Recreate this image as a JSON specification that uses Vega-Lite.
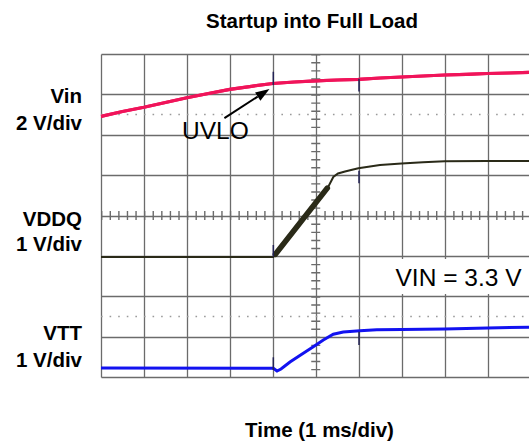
{
  "$schema": "https://vega.github.io/schema/vega-lite/v6.json",
  "width": 428,
  "height": 323,
  "autosize": {"type": "none"},
  "padding": {"left": 101, "top": 54, "right": 0, "bottom": 66},
  "background": "white",
  "config": {
    "view": {"stroke": null},
    "axis": {"grid": true, "gridColor": "#6b6b6b", "gridWidth": 1.3, "gridOpacity": 1, "domain": false, "ticks": false, "labels": false}
  },
  "datasets": {
    "vin": [
      {"t": 0, "v": 6.454}, {"t": 0.5, "v": 6.576}, {"t": 1, "v": 6.68}, {"t": 1.5, "v": 6.799},
      {"t": 2, "v": 6.915}, {"t": 2.5, "v": 7.022}, {"t": 3, "v": 7.123}, {"t": 3.5, "v": 7.2},
      {"t": 4, "v": 7.269}, {"t": 4.5, "v": 7.307}, {"t": 5, "v": 7.336}, {"t": 5.5, "v": 7.356},
      {"t": 6, "v": 7.373}, {"t": 6.5, "v": 7.406}, {"t": 7, "v": 7.43}, {"t": 7.5, "v": 7.455},
      {"t": 8, "v": 7.48}, {"t": 8.5, "v": 7.497}, {"t": 9, "v": 7.517}, {"t": 9.5, "v": 7.529},
      {"t": 9.965, "v": 7.544}
    ],
    "vddq": [
      {"t": 0, "v": 2.972}, {"t": 4.012, "v": 2.972}, {"t": 5.292, "v": 4.713}, {"t": 5.409, "v": 4.954},
      {"t": 5.518, "v": 5.04}, {"t": 5.681, "v": 5.09}, {"t": 5.991, "v": 5.169}, {"t": 6.496, "v": 5.251},
      {"t": 6.997, "v": 5.285}, {"t": 7.497, "v": 5.318}, {"t": 8.002, "v": 5.342}, {"t": 8.999, "v": 5.352},
      {"t": 9.965, "v": 5.352}
    ],
    "vddq_ramp": [
      {"t": 4.06, "v": 3.04}, {"t": 5.27, "v": 4.68}
    ],
    "vtt": [
      {"t": 0, "v": 0.223}, {"t": 4.012, "v": 0.215}, {"t": 4.098, "v": 0.149}, {"t": 4.191, "v": 0.198},
      {"t": 4.4, "v": 0.372}, {"t": 4.71, "v": 0.587}, {"t": 4.943, "v": 0.75}, {"t": 5.176, "v": 0.916},
      {"t": 5.409, "v": 1.058}, {"t": 5.641, "v": 1.115}, {"t": 6.03, "v": 1.147}, {"t": 6.419, "v": 1.17},
      {"t": 6.997, "v": 1.176}, {"t": 8.002, "v": 1.191}, {"t": 8.999, "v": 1.216}, {"t": 9.965, "v": 1.233}
    ],
    "cursors": [
      {"t": 4.012, "v": 7.56, "v2": 7.23}, {"t": 6.007, "v": 7.39, "v2": 7.07},
      {"t": 4.012, "v": 3.27, "v2": 2.98}, {"t": 6.007, "v": 5.11, "v2": 4.8},
      {"t": 4.012, "v": 0.488, "v2": 0.173}, {"t": 6.007, "v": 1.122, "v2": 0.793}
    ],
    "labels": [
      {"t": -0.442, "v": 6.789, "label": "Vin"},
      {"t": -0.442, "v": 6.12, "label": "2 V/div"},
      {"t": -0.442, "v": 3.74, "label": "VDDQ"},
      {"t": -0.442, "v": 3.113, "label": "1 V/div"},
      {"t": -0.442, "v": 0.916, "label": "VTT"},
      {"t": -0.442, "v": 0.255, "label": "1 V/div"}
    ],
    "titles": [
      {"t": 4.913, "v": 8.651, "label": "Startup into Full Load"},
      {"t": 5.087, "v": -1.484, "label": "Time (1 ms/div)"}
    ],
    "notes": [
      {"t": 1.886, "v": 5.887, "label": "UVLO"},
      {"t": 6.857, "v": 2.261, "label": "VIN = 3.3 V"}
    ],
    "box": [{"t": 6.054, "t2": 9.965, "v": 2.056, "v2": 2.92}],
    "arrow": [{"t": 2.873, "v": 6.412, "t2": 3.648, "v2": 6.945}],
    "arrowhead": [{"t": 3.786, "v": 7.039}],
    "refs": [{"v": 6.5}, {"v": 1.5}]
  },
  "layer": [
    {
      "data": {"name": "vin"},
      "mark": {"type": "line", "color": "#f0145a", "strokeWidth": 3.2, "clip": true},
      "encoding": {
        "x": {
          "field": "t", "type": "quantitative", "title": null,
          "scale": {"domain": [0, 9.965], "nice": false, "zero": false},
          "axis": {"values": [0, 1, 2, 3, 4, 5, 6, 7, 8, 9]}
        },
        "y": {
          "field": "v", "type": "quantitative", "title": null,
          "scale": {"domain": [0, 8], "nice": false, "zero": false},
          "axis": {"values": [0, 1, 2, 3, 4, 5, 6, 7, 8]}
        }
      }
    },
    {
      "data": {"name": "refs"},
      "mark": {"type": "rule", "color": "#9a9a9a", "strokeWidth": 1.5, "strokeDash": [1.6, 6.99]},
      "encoding": {
        "y": {"field": "v", "type": "quantitative", "title": null},
        "x": {"datum": 0, "type": "quantitative", "title": null},
        "x2": {"datum": 10}
      }
    },
    {
      "data": {"values": [{}]},
      "mark": {"type": "rule", "color": "#6b6b6b", "strokeWidth": 9, "strokeDash": [1.4, 6.675]},
      "encoding": {
        "x": {"datum": 5, "type": "quantitative", "title": null},
        "y": {"datum": 8, "type": "quantitative", "title": null},
        "y2": {"datum": 0}
      }
    },
    {
      "data": {"values": [{}]},
      "mark": {"type": "rule", "color": "#6b6b6b", "strokeWidth": 9, "strokeDash": [1.4, 7.19]},
      "encoding": {
        "y": {"datum": 4, "type": "quantitative", "title": null},
        "x": {"datum": 0, "type": "quantitative", "title": null},
        "x2": {"datum": 10}
      }
    },
    {
      "data": {"name": "box"},
      "mark": {"type": "rect", "fill": "white", "strokeWidth": 0},
      "encoding": {
        "x": {"field": "t", "type": "quantitative", "title": null},
        "x2": {"field": "t2"},
        "y": {"field": "v", "type": "quantitative", "title": null},
        "y2": {"field": "v2"}
      }
    },
    {
      "data": {"name": "vin"},
      "mark": {"type": "line", "color": "#f0145a", "strokeWidth": 3.2},
      "encoding": {
        "x": {"field": "t", "type": "quantitative", "title": null},
        "y": {"field": "v", "type": "quantitative", "title": null}
      }
    },
    {
      "data": {"name": "vddq"},
      "mark": {"type": "line", "color": "#2a2a18", "strokeWidth": 2},
      "encoding": {
        "x": {"field": "t", "type": "quantitative", "title": null},
        "y": {"field": "v", "type": "quantitative", "title": null}
      }
    },
    {
      "data": {"name": "vddq_ramp"},
      "mark": {"type": "line", "color": "#2a2a18", "strokeWidth": 5.5, "strokeCap": "round"},
      "encoding": {
        "x": {"field": "t", "type": "quantitative", "title": null},
        "y": {"field": "v", "type": "quantitative", "title": null}
      }
    },
    {
      "data": {"name": "vtt"},
      "mark": {"type": "line", "color": "#1212f0", "strokeWidth": 3},
      "encoding": {
        "x": {"field": "t", "type": "quantitative", "title": null},
        "y": {"field": "v", "type": "quantitative", "title": null}
      }
    },
    {
      "data": {"name": "cursors"},
      "mark": {"type": "rule", "color": "#222255", "strokeWidth": 1.5},
      "encoding": {
        "x": {"field": "t", "type": "quantitative", "title": null},
        "y": {"field": "v", "type": "quantitative", "title": null},
        "y2": {"field": "v2"}
      }
    },
    {
      "data": {"name": "arrow"},
      "mark": {"type": "rule", "color": "black", "strokeWidth": 2},
      "encoding": {
        "x": {"field": "t", "type": "quantitative", "title": null},
        "y": {"field": "v", "type": "quantitative", "title": null},
        "x2": {"field": "t2"},
        "y2": {"field": "v2"}
      }
    },
    {
      "data": {"name": "arrowhead"},
      "mark": {"type": "point", "shape": "M1,0L-1,-0.7L-1,0.7Z", "size": 196, "filled": true, "color": "black", "opacity": 1, "angle": 327},
      "encoding": {
        "x": {"field": "t", "type": "quantitative", "title": null},
        "y": {"field": "v", "type": "quantitative", "title": null}
      }
    },
    {
      "data": {"name": "labels"},
      "mark": {"type": "text", "font": "Liberation Sans", "fontSize": 20.5, "fontWeight": "bold", "color": "black", "align": "right", "baseline": "alphabetic"},
      "encoding": {
        "x": {"field": "t", "type": "quantitative", "title": null},
        "y": {"field": "v", "type": "quantitative", "title": null},
        "text": {"field": "label"}
      }
    },
    {
      "data": {"name": "titles"},
      "mark": {"type": "text", "font": "Liberation Sans", "fontSize": 20.5, "fontWeight": "bold", "color": "black", "align": "center", "baseline": "alphabetic"},
      "encoding": {
        "x": {"field": "t", "type": "quantitative", "title": null},
        "y": {"field": "v", "type": "quantitative", "title": null},
        "text": {"field": "label"}
      }
    },
    {
      "data": {"name": "notes"},
      "mark": {"type": "text", "font": "Liberation Sans", "fontSize": 24.5, "fontWeight": "normal", "color": "black", "align": "left", "baseline": "alphabetic"},
      "encoding": {
        "x": {"field": "t", "type": "quantitative", "title": null},
        "y": {"field": "v", "type": "quantitative", "title": null},
        "text": {"field": "label"}
      }
    }
  ]
}
